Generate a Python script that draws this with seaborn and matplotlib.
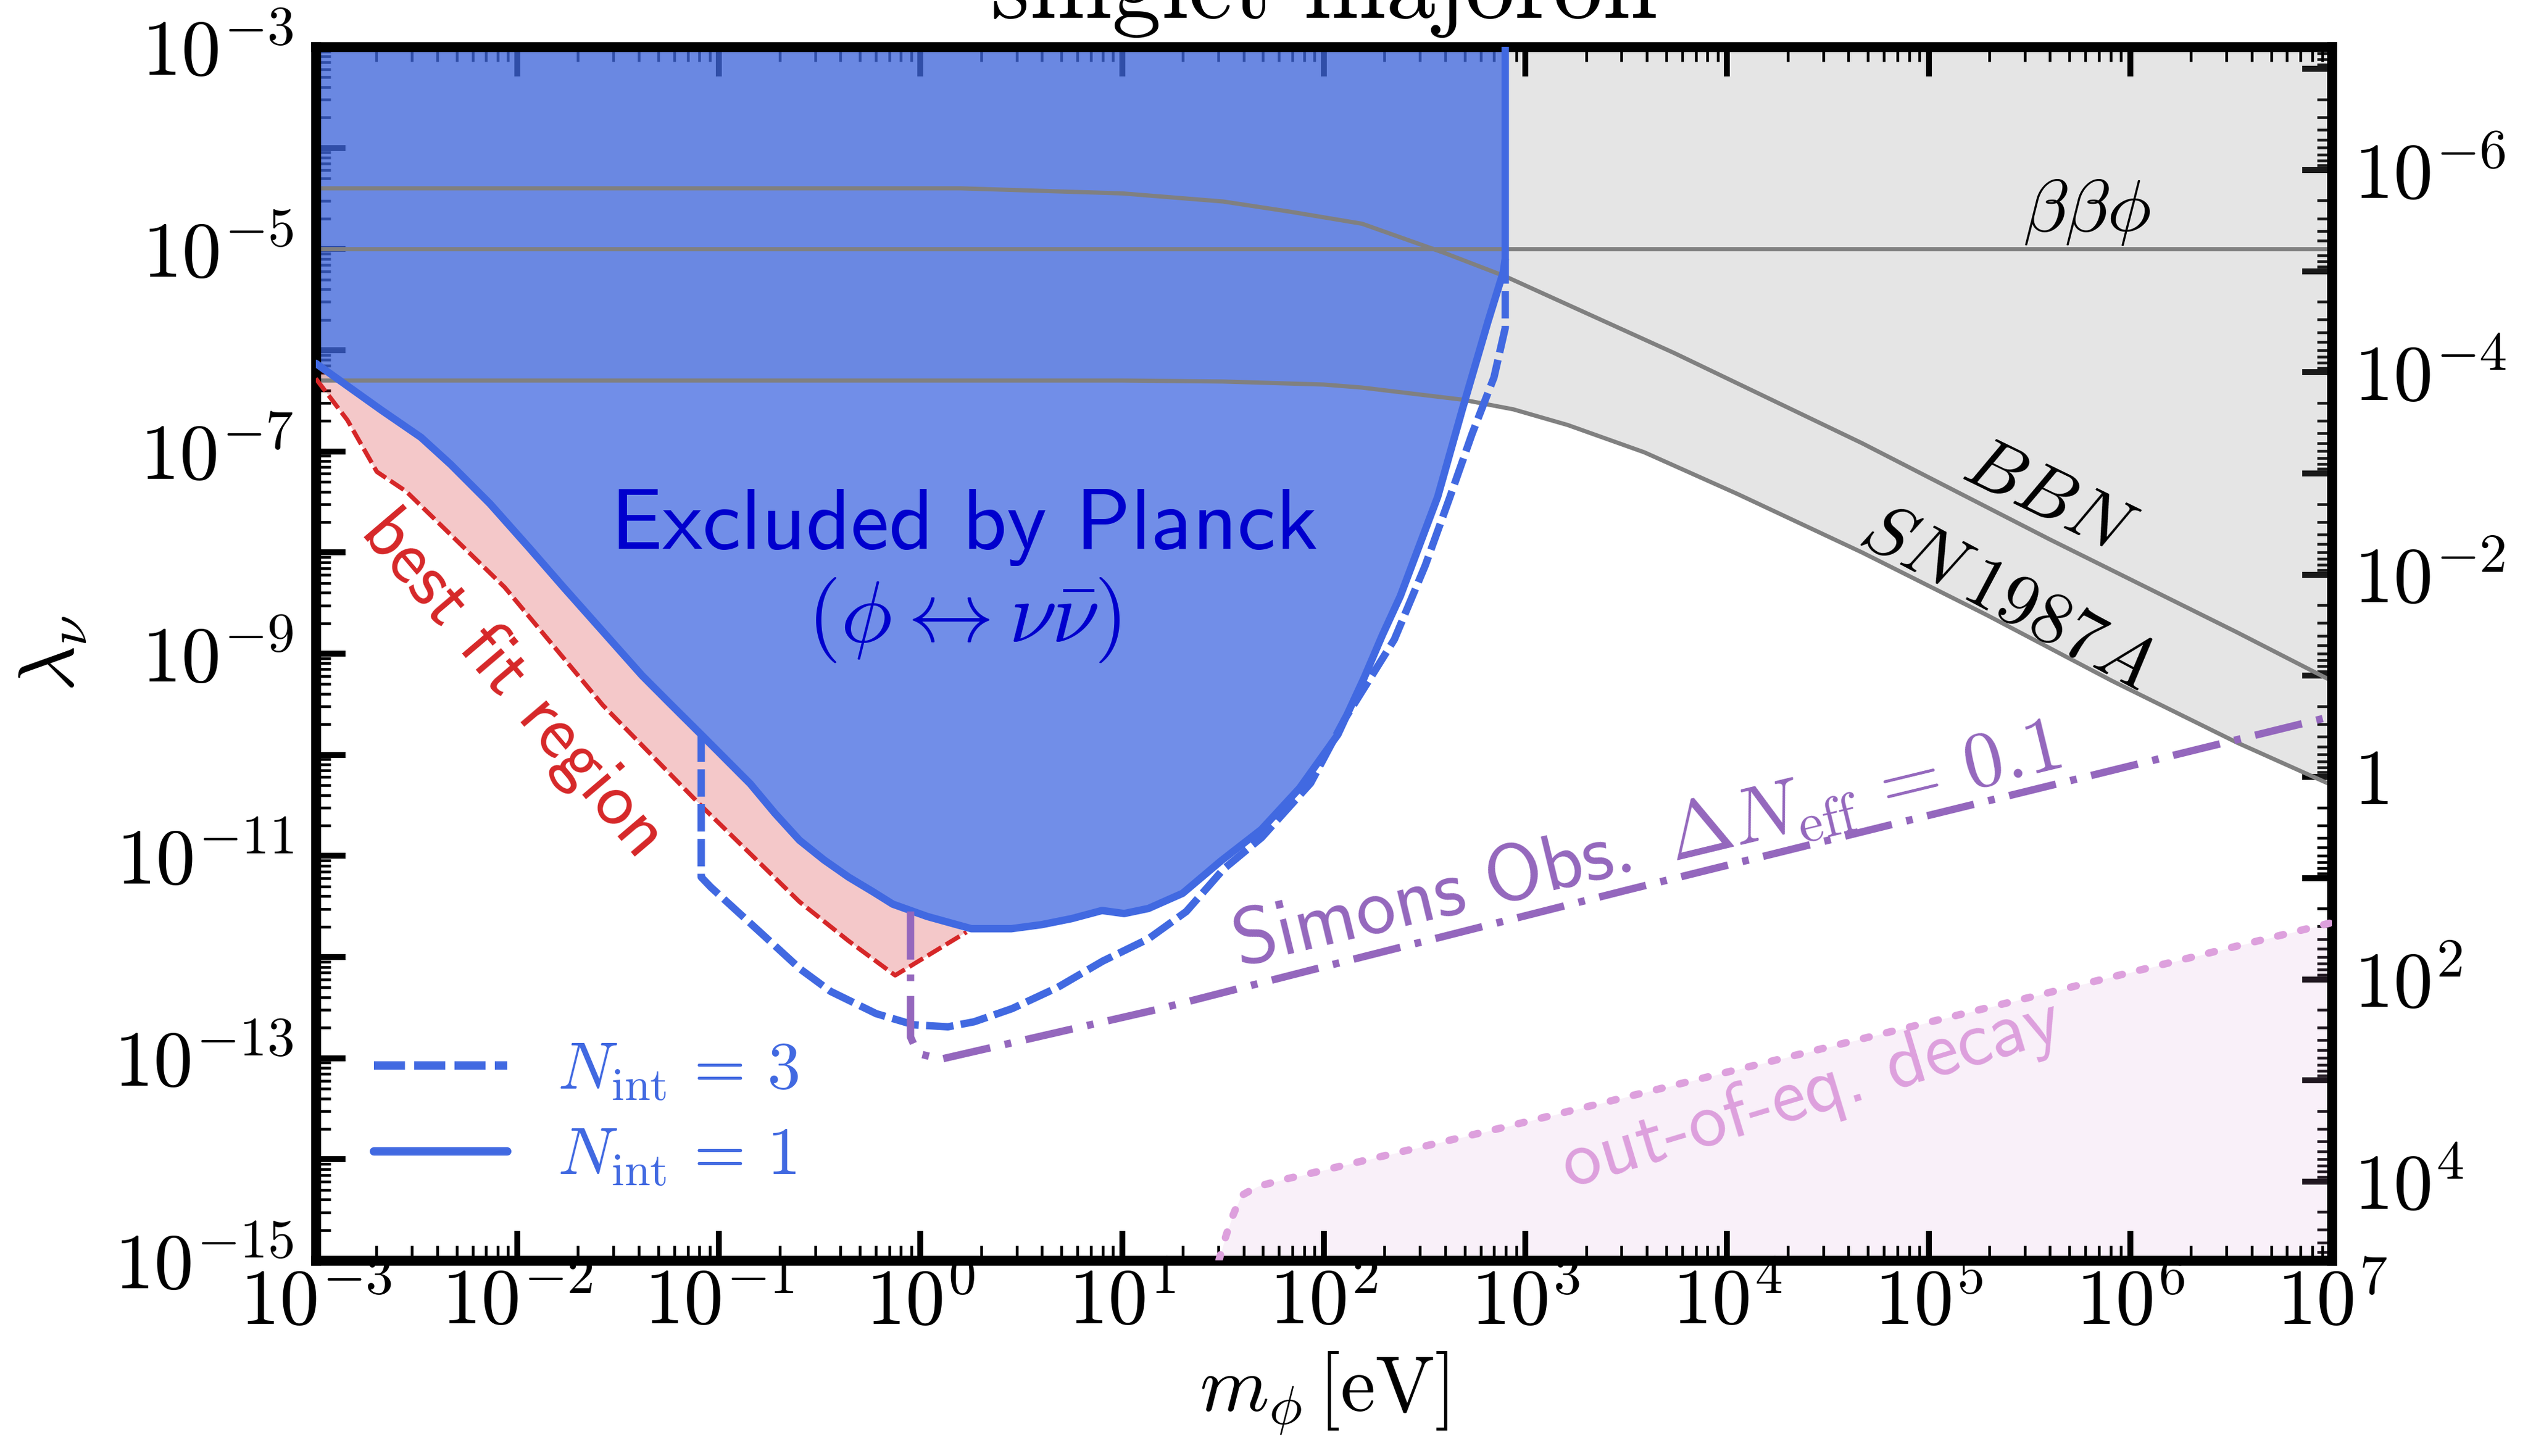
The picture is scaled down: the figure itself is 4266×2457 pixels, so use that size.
import numpy as np
import matplotlib
matplotlib.use("Agg")
import matplotlib.pyplot as plt
from matplotlib.lines import Line2D
from matplotlib.ticker import LogLocator, FuncFormatter, NullFormatter
import seaborn as sns

# ---------------------------------------------------------------------------
# Axis ranges and tick labels (log10 values)
# ---------------------------------------------------------------------------
logm_range = (-3, 7)          # m_phi [eV]
loglam_range = (-15, -3)      # lambda_nu
x_label_exps = [-3, -2, -1, 0, 1, 2, 3, 4, 5, 6, 7]
y_label_exps = [-15, -13, -11, -9, -7, -5, -3]
right_label_exps = [-6, -4, -2, 0, 2, 4]
right_axis_logc = -10.22      # right axis value = 10**right_axis_logc / lambda_nu

# ---------------------------------------------------------------------------
# Curves: log10(m_phi / eV) and log10(lambda_nu)
# ---------------------------------------------------------------------------
# Planck exclusion, N_int = 1
planck1_logm = [-3.0, -2.673, -2.478, -2.331, -2.136, -1.941, -1.771, -1.576, -1.381,
                -1.235, -1.088, -0.942, -0.845, -0.723, -0.601, -0.479, -0.357, -0.235,
                -0.138, 0.033, 0.252, 0.45, 0.60, 0.75, 0.90, 1.01, 1.13, 1.30, 1.49,
                1.69, 1.88, 2.07, 2.20, 2.29, 2.38, 2.565, 2.688, 2.814, 2.89, 2.90, 2.90]
planck1_loglam = [-6.13, -6.595, -6.862, -7.129, -7.518, -7.955, -8.344, -8.781, -9.218,
                  -9.510, -9.801, -10.093, -10.287, -10.578, -10.845, -11.040, -11.210,
                  -11.356, -11.477, -11.599, -11.720, -11.72, -11.68, -11.62, -11.54,
                  -11.57, -11.52, -11.37, -11.05, -10.74, -10.33, -9.80, -9.24, -8.82,
                  -8.43, -7.45, -6.58, -5.72, -5.23, -5.10, -3.0]

# Planck exclusion, N_int = 3
planck3_logm = [-1.088, -1.088, -1.04, -0.749, -0.596, -0.446, -0.22, -0.034, 0.136,
                0.266, 0.454, 0.680, 0.904, 1.130, 1.318, 1.503, 1.691, 1.935, 2.103,
                2.194, 2.35, 2.503, 2.626, 2.735, 2.844, 2.90, 2.90]
planck3_loglam = [-9.80, -11.21, -11.31, -11.84, -12.12, -12.34, -12.56, -12.67, -12.69,
                  -12.64, -12.51, -12.30, -12.04, -11.82, -11.55, -11.13, -10.82, -10.28,
                  -9.65, -9.36, -8.86, -8.13, -7.45, -6.83, -6.27, -5.78, -5.10]

# Best-fit region, lower edge
bestfit_logm = [-3.0, -2.843, -2.697, -2.551, -2.063, -1.576, -1.088, -0.601, -0.357,
                -0.126, 0.228]
bestfit_loglam = [-6.28, -6.692, -7.202, -7.397, -8.344, -9.510, -10.505, -11.453,
                  -11.841, -12.181, -11.753]

# Simons Observatory, Delta N_eff = 0.1
simons_logm = [-0.05, -0.05, -0.03, 0.00, 0.10, 1.17, 2.19, 3.5, 5.0, 6.90, 7.0]
simons_loglam = [-11.55, -12.79, -12.88, -12.96, -13.01, -12.52, -12.00, -11.34, -10.60,
                 -9.67, -9.62]

# Out-of-equilibrium decay
ooe_logm = [1.48, 1.50, 1.54, 1.59, 1.67, 1.80, 1.91, 2.88, 7.0]
ooe_loglam = [-15.0, -14.85, -14.60, -14.36, -14.27, -14.20, -14.15, -13.69, -11.66]

# Double beta decay with majoron emission
bbphi_logm = [-3.0, 7.0]
bbphi_loglam = [-5.0, -5.0]

# BBN
bbn_logm = [-3.0, 0.2, 1.0, 1.5, 1.83, 2.19, 2.6, 2.9, 3.74, 4.67, 5.60, 6.53, 7.0]
bbn_loglam = [-4.40, -4.40, -4.45, -4.53, -4.63, -4.75, -5.04, -5.27, -6.03, -6.92,
              -7.87, -8.79, -9.27]

# SN1987A
sn_logm = [-3.0, 1.0, 1.5, 2.0, 2.19, 2.69, 2.94, 3.21, 3.59, 4.05, 4.67, 5.29, 5.91,
           6.53, 7.0]
sn_loglam = [-6.30, -6.30, -6.31, -6.34, -6.37, -6.49, -6.585, -6.74, -7.01, -7.42,
             -8.00, -8.62, -9.27, -9.88, -10.30]


def pw(a):
    return np.power(10.0, np.asarray(a, dtype=float))


# ---------------------------------------------------------------------------
# Style
# ---------------------------------------------------------------------------
sns.set_theme(style="ticks")
plt.rcParams.update({
    "font.family": ["cmr10", "DejaVu Serif"],
    "mathtext.fontset": "cm",
    "axes.formatter.use_mathtext": True,
    "axes.unicode_minus": False,
    "axes.edgecolor": "black",
    "xtick.color": "black",
    "ytick.color": "black",
    "text.color": "black",
    "axes.labelcolor": "black",
})

fig, ax = plt.subplots(figsize=(4266 / 300, 2457 / 300), dpi=300)
fig.subplots_adjust(left=0.1249, right=0.9224, top=0.9679, bottom=0.1343)
ax.set_xscale("log")
ax.set_yscale("log")
ax.set_xlim(pw(logm_range[0]), pw(logm_range[1]))
ax.set_ylim(pw(loglam_range[0]), pw(loglam_range[1]))

# ---------------------------------------------------------------------------
# Filled regions
# ---------------------------------------------------------------------------
ax.fill_between(pw(sn_logm), pw(sn_loglam), pw(loglam_range[1]),
                color="gray", alpha=0.2, lw=0, zorder=0.5)
ax.fill_between(pw(ooe_logm), pw(loglam_range[0]), pw(ooe_loglam),
                color="plum", alpha=0.15, lw=0, zorder=0.5)
ax.fill_between(pw(planck1_logm), pw(planck1_loglam), pw(loglam_range[1]),
                color="royalblue", alpha=0.75, lw=0, zorder=1)

# best-fit band between its lower edge and the N_int = 1 Planck bound
p1m = np.asarray(planck1_logm)
p1l = np.asarray(planck1_loglam)
sel = p1m < bestfit_logm[-1]
band_m = np.concatenate([bestfit_logm, p1m[sel][::-1]])
band_l = np.concatenate([bestfit_loglam, p1l[sel][::-1]])
ax.fill(pw(band_m), pw(band_l), color="tab:red", alpha=0.25, lw=0, zorder=1)

# ---------------------------------------------------------------------------
# Lines
# ---------------------------------------------------------------------------
def curve(logm, loglam, **kw):
    sns.lineplot(x=pw(logm), y=pw(loglam), sort=False, estimator=None, ax=ax, **kw)
    return ax.lines[-1]


for lm, ll in [(bbphi_logm, bbphi_loglam), (bbn_logm, bbn_loglam), (sn_logm, sn_loglam)]:
    curve(lm, ll, color="gray", linewidth=1.7, zorder=2)

curve(bestfit_logm, bestfit_loglam, color="tab:red", linewidth=1.8,
      linestyle=(0, (3.6, 1.2)), zorder=3)
curve(planck1_logm, planck1_loglam, color="royalblue", linewidth=3.0, zorder=3)
curve(planck3_logm, planck3_loglam, color="royalblue", linewidth=3.0,
      linestyle=(0, (3.7, 1.0)), zorder=3)
curve(simons_logm, simons_loglam, color="tab:purple", linewidth=3.0,
      linestyle=(0, (6.5, 2.0, 0.9, 2.0)), zorder=3)
line_ooe = curve(ooe_logm, ooe_loglam, color="plum", linewidth=3.0,
                 linestyle=(0, (0.8, 2.4)), zorder=3)
line_ooe.set_dash_capstyle("round")

# ---------------------------------------------------------------------------
# Annotations
# ---------------------------------------------------------------------------
ax.text(pw(0.216), pw(-7.75), "Excluded by Planck", fontfamily="cmss10", fontsize=35,
        color="mediumblue", ha="center", va="center", zorder=4)
ax.text(pw(0.216), pw(-8.67), r"$(\phi \leftrightarrow \nu\bar{\nu})$", fontsize=35,
        color="mediumblue", ha="center", va="center", zorder=4)
ax.text(pw(-2.024), pw(-9.31), "best fit region", fontfamily="cmss10", fontsize=30,
        color="tab:red", rotation=-49.6, rotation_mode="anchor",
        ha="center", va="center", zorder=4)
ax.text(pw(3.60), pw(-10.905),
        r"$\mathsf{Simons\ Obs.}\ \Delta N_{\rm eff} \,=\, 0.1$",
        fontsize=32, color="tab:purple", rotation=13.6, rotation_mode="anchor",
        ha="center", va="center", zorder=4)
ax.text(pw(4.42), pw(-13.36), "out-of-eq. decay", fontfamily="cmss10", fontsize=31,
        color="plum", rotation=16.8, rotation_mode="anchor",
        ha="center", va="center", zorder=4)
ax.text(pw(5.592), pw(-7.479), r"$BBN$", fontsize=30, rotation=-26,
        rotation_mode="anchor", ha="center", va="center", zorder=4)
ax.text(pw(5.384), pw(-8.467), r"$SN\,1987A$", fontsize=30, rotation=-28,
        rotation_mode="anchor", ha="center", va="center", zorder=4)
ax.text(pw(5.784), pw(-4.64), r"$\beta\beta\phi$", fontsize=30,
        ha="center", va="center", zorder=4)

fig.text(0.5237, 1 - 30 / 2457, "singlet majoron", fontfamily="cmr10", fontsize=40,
         ha="center", va="baseline")

# legend
handles = [
    Line2D([], [], color="royalblue", linewidth=3.4, linestyle=(0, (3.7, 1.1))),
    Line2D([], [], color="royalblue", linewidth=3.4),
]
labels = [r"$N_{\rm int} \,=\, 3$", r"$N_{\rm int} \,=\, 1$"]
ax.legend(handles, labels, loc="center left", bbox_to_anchor=(0.029, 0.12),
          frameon=False, fontsize=27, labelcolor="royalblue", handlelength=2.0,
          handletextpad=0.75, labelspacing=0.38, borderpad=0, borderaxespad=0)

# ---------------------------------------------------------------------------
# Axes, ticks, labels
# ---------------------------------------------------------------------------
ax.set_xlabel(r"$m_\phi\,[\mathrm{eV}]$", fontsize=32, labelpad=4)
ax.set_ylabel(r"$\lambda_\nu$", fontsize=32, labelpad=10)


def exp_of(v):
    return int(np.round(np.log10(v)))


def make_fmt(exps, one_as_unity=False):
    def fmt(v, pos):
        if v <= 0:
            return ""
        e = exp_of(v)
        if e not in exps:
            return ""
        if one_as_unity and e == 0:
            return r"$1$"
        return r"$10^{%d}$" % e
    return FuncFormatter(fmt)


ax.xaxis.set_major_locator(LogLocator(base=10, numticks=30))
ax.xaxis.set_minor_locator(LogLocator(base=10, subs=np.arange(2, 10), numticks=30))
ax.xaxis.set_major_formatter(make_fmt(x_label_exps))
ax.xaxis.set_minor_formatter(NullFormatter())
ax.yaxis.set_major_locator(LogLocator(base=10, numticks=30))
ax.yaxis.set_minor_locator(LogLocator(base=10, subs=np.arange(2, 10), numticks=30))
ax.yaxis.set_major_formatter(make_fmt(y_label_exps))
ax.yaxis.set_minor_formatter(NullFormatter())

ax.tick_params(which="both", direction="in", top=True, right=False, left=True, bottom=True)
ax.tick_params(which="major", length=12, width=2.4, labelsize=32)
ax.tick_params(which="minor", length=6, width=1.1)
ax.tick_params(axis="x", which="major", pad=3)
ax.tick_params(axis="y", which="major", pad=9)
for sp in ax.spines.values():
    sp.set_linewidth(4)
    sp.set_color("black")

rc = pw(right_axis_logc)


def to_right(y):
    y = np.asarray(y, dtype=float)
    with np.errstate(divide="ignore", invalid="ignore"):
        return rc / y


sec = ax.secondary_yaxis("right", functions=(to_right, to_right))
sec.yaxis.set_major_locator(LogLocator(base=10, numticks=30))
sec.yaxis.set_minor_locator(LogLocator(base=10, subs=np.arange(2, 10), numticks=30))
sec.yaxis.set_major_formatter(make_fmt(right_label_exps, one_as_unity=True))
sec.yaxis.set_minor_formatter(NullFormatter())
sec.tick_params(which="both", direction="in")
sec.tick_params(which="major", length=12, width=2.4, labelsize=32, pad=9)
sec.tick_params(which="minor", length=6, width=1.1)
sec.spines["right"].set_linewidth(4)

fig.savefig("out.png", dpi=300)
